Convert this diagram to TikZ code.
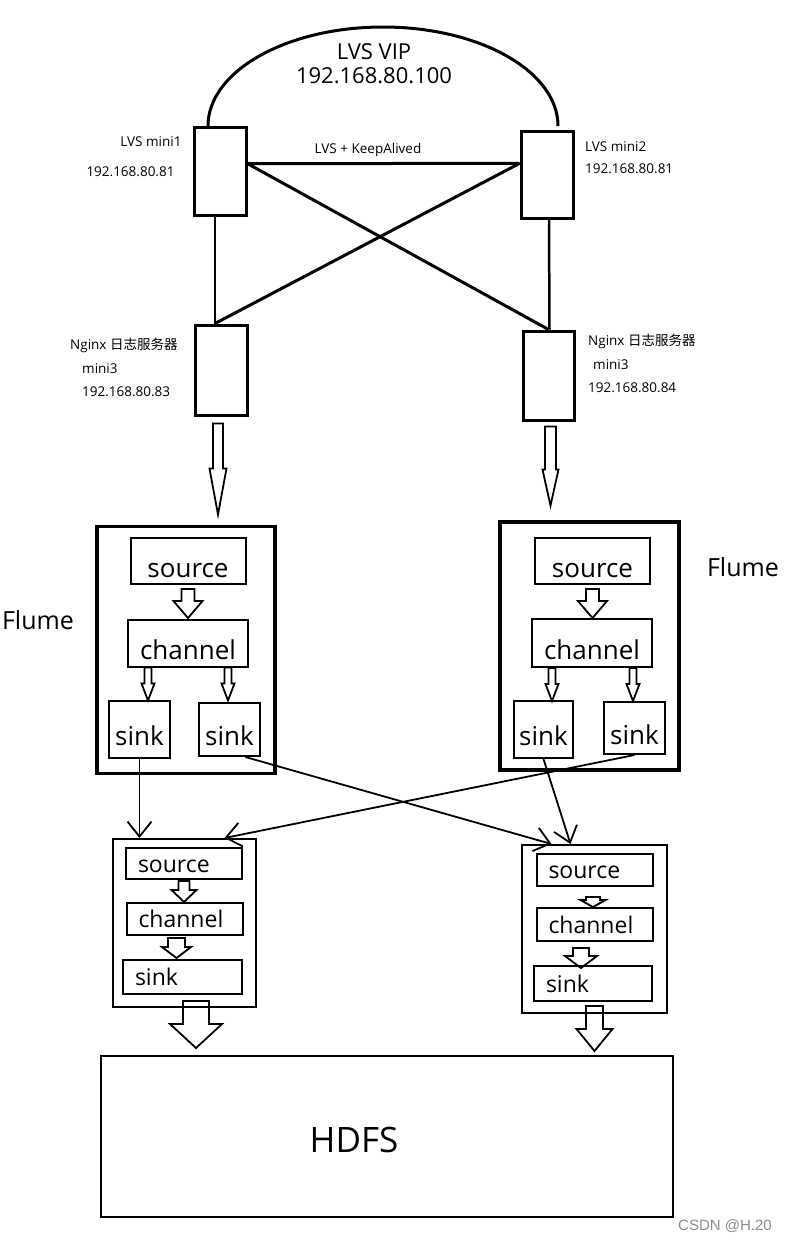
\documentclass[tikz,border=0pt]{standalone}
\usepackage{fontspec}
\setmainfont{Open Sans}
\newfontfamily\cjk{Noto Sans CJK SC}
\newfontfamily\wmfont{Liberation Sans}
\usetikzlibrary{arrows.meta}

\tikzset{
	server/.style={draw, line width=3pt, inner sep=0pt, minimum width=52pt, minimum height=88pt},
	info/.style={inner sep=0pt, font=\fontsize{13.5}{16}\selectfont},
	agent/.style={draw, line width=3.5pt, inner sep=0pt, minimum width=179pt, minimum height=248pt},
	part/.style={draw, line width=2pt, inner sep=1pt, font=\fontsize{26}{30}\selectfont, text height=32pt, text depth=0pt},
	collector/.style={draw, line width=2pt, inner sep=0pt, minimum width=144pt, minimum height=168pt},
	subpart/.style={draw, line width=2pt, inner xsep=12pt, inner ysep=1pt, text width=92pt, align=left, font=\fontsize{23}{27}\selectfont, text height=20pt, text depth=3pt},
	link/.style={line width=3pt},
	feed/.style={line width=1.8pt, -{Straight Barb[length=15pt,width=24pt]}},
	pics/harrow/.style args={#1/#2/#3/#4}{code={
		\draw[line width=1.8pt, line join=miter] (-#2,0) -- (-#2,#1-#4) -- (-#3,#1-#4) -- (0,#1) -- (#3,#1-#4) -- (#2,#1-#4) -- (#2,0) -- cycle;
	}}
}

\begin{document}
\begin{tikzpicture}[x=1pt, y=-1pt]
	\useasboundingbox (0,0) rectangle (798,1243);

	% LVS pair
	\node[align=center, font=\fontsize{22}{24}\selectfont] (vip) at (374,64) {LVS VIP\\192.168.80.100};
	\node[server] (m1) at (220,171.5) {};
	\node[server, minimum height=87pt] (m2) at (547,174.5) {};
	\node[info] (m1name) at (151,142) {LVS mini1};
	\node[info] (m1ip) at (130.5,172) {192.168.80.81};
	\node[info, anchor=west] (m2name) at (585,147) {LVS mini2};
	\node[info, anchor=west] (m2ip) at (585,169) {192.168.80.81};
	\node[info] (ka) at (368,150) {LVS + KeepAlived};

	% nginx servers
	\node[server, minimum height=90pt] (n1) at (221,370) {};
	\node[server, minimum width=51pt, minimum height=89pt] (n2) at (548.5,375.5) {};
	\node[info, anchor=west] (n1name) at (70,345) {Nginx {\cjk 日志服务器}};
	\node[info, anchor=west] (n1host) at (82,369) {mini3};
	\node[info, anchor=west] (n1ip) at (82,392) {192.168.80.83};
	\node[info, anchor=west] (n2name) at (588,341) {Nginx {\cjk 日志服务器}};
	\node[info, anchor=west] (n2host) at (593,365) {mini3};
	\node[info, anchor=west] (n2ip) at (588,388) {192.168.80.84};

	\draw[link] ([xshift=-12pt]m1.north) arc[start angle=180, end angle=360, x radius=175, y radius=99];
	\draw[link] (m1.16) -- (m2.158);
	\draw[link] (m1.16) -- (n2.north);
	\draw[link] (m2.158) -- ([xshift=-6pt]n1.north);
	\draw[line width=2.5pt] ([xshift=-5pt]m1.south) -- ([xshift=-6pt]n1.north);
	\draw[line width=2.5pt] ([xshift=2pt]m2.south) -- ([xshift=1pt]n2.north);

	\pic at ([xshift=-3pt,yshift=-7pt]n1.south) {harrow=91/5/8.5/46};
	\pic at ([xshift=2pt,yshift=-5pt]n2.south) {harrow=79/5.5/8/36};

	% flume agents
	\node[agent, minimum width=178pt, minimum height=247pt] (f1) at (186,650) {};
	\node[agent] (f2) at (589.5,646) {};
	\node[font=\fontsize{25}{30}\selectfont] (f1name) at (38,620) {Flume};
	\node[font=\fontsize{25}{30}\selectfont] (f2name) at (743,567) {Flume};

	\node[part, minimum width=115pt, minimum height=46pt] (src1) at (188,561) {source};
	\node[part, minimum width=120pt, minimum height=47pt] (ch1) at (188,643) {channel};
	\node[part, minimum width=61pt, minimum height=57pt] (sk1a) at (139.5,729.5) {sink};
	\node[part, minimum width=61pt, minimum height=53pt] (sk1b) at (229.5,729.5) {sink};
	\node[part, minimum width=115pt, minimum height=46pt] (src2) at (592.5,561) {source};
	\node[part, minimum width=120pt, minimum height=48pt] (ch2) at (592,643) {channel};
	\node[part, minimum width=59pt, minimum height=57pt] (sk2a) at (543.5,729.5) {sink};
	\node[part, minimum width=61pt, minimum height=52pt] (sk2b) at (634.5,728) {sink};

	\pic at ([yshift=-4pt]src1.south) {harrow=29/6.5/14.5/17};
	\pic at ([xshift=-40pt]ch1.south) {harrow=33/3.5/6.5/17};
	\pic at ([xshift=40pt]ch1.south) {harrow=33/3.5/6.5/17};
	\pic at ([yshift=-4pt]src2.south) {harrow=29/6.5/14.5/17};
	\pic at ([xshift=-40pt]ch2.south) {harrow=33/3.5/6.5/17};
	\pic at ([xshift=41pt]ch2.south) {harrow=33/3.5/6.5/17};

	% collectors
	\node[collector, minimum width=143pt] (ll) at (184.5,923) {};
	\node[collector, minimum width=145pt] (lr) at (594.5,929) {};
	\node[subpart, minimum height=31pt] (lls) at (184,863.5) {source};
	\node[subpart, minimum height=32pt] (llc) at (184.5,919) {channel};
	\node[subpart, minimum height=34pt, text width=95pt] (llk) at (182.5,977) {sink};
	\node[subpart, minimum height=32pt] (lrs) at (594.5,870) {source};
	\node[subpart, minimum height=33pt] (lrc) at (594.5,924.5) {channel};
	\node[subpart, minimum height=35pt, text width=94pt] (lrk) at (593,983.5) {sink};

	\pic at ([yshift=-1pt]lls.south) {harrow=21/5.5/12.5/12};
	\pic at ([xshift=-8pt,yshift=-2pt]llc.south) {harrow=20/8.5/14.5/11};
	\pic at ([xshift=-1.5pt,yshift=-10pt]lrs.south) {harrow=10/7/12.5/7};
	\pic at ([xshift=-13.5pt,yshift=-6pt]lrc.south) {harrow=20/8/16/12};

	\draw[feed] (sk1a.south) -- (sk1a.south |- ll.north);
	\draw[feed] (sk1b.-60) -- ([xshift=-43pt]lr.north);
	\draw[feed] (sk2b.south) -- ([xshift=40pt]ll.north);
	\draw[feed] (sk2a.south) -- ([xshift=-24pt]lr.north);

	% hdfs
	\node[draw, line width=2.5pt, minimum width=572pt, minimum height=161pt] (hdfs) at (387,1136.5) {};
	\node[font=\fontsize{35}{40}\selectfont] (hdfsname) at (354,1140) {HDFS};
	\pic at ([xshift=11.5pt,yshift=7pt]ll.south) {harrow=47/13/26/24};
	\pic at ([yshift=8pt]lr.south) {harrow=45/8.5/18/22};

	\node[font=\wmfont\fontsize{15}{18}\selectfont, text=black!45] (mark) at (725,1226) {CSDN @H.20};
\end{tikzpicture}
\end{document}
